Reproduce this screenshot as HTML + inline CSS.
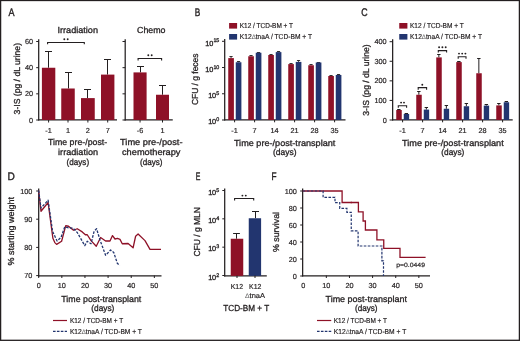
<!DOCTYPE html>
<html><head><meta charset="utf-8"><style>
html,body{margin:0;padding:0;background:#fff;}
svg{display:block;will-change:transform;}
text{font-family:"Liberation Sans",sans-serif;text-rendering:geometricPrecision;fill:#231f20;stroke:#231f20;stroke-width:0.3px;}
</style></head><body>
<svg width="520" height="341" viewBox="0 0 520 341">
<rect x="0" y="0" width="520" height="341" fill="#fff"/>
<text transform="translate(8.48,15.8) scale(0.82,1)" font-size="11" style="stroke-width:0.4px">A</text>
<text transform="translate(194.72,15.8) scale(0.75,1)" font-size="11" style="stroke-width:0.4px">B</text>
<text transform="translate(361.35,15.8) scale(0.8,1)" font-size="11" style="stroke-width:0.4px">C</text>
<text transform="translate(7.42,179.6) scale(0.92,1)" font-size="11" style="stroke-width:0.4px">D</text>
<text transform="translate(195.73,179.6) scale(0.63,1)" font-size="11" style="stroke-width:0.4px">E</text>
<text transform="translate(271.42,179.6) scale(0.75,1)" font-size="11" style="stroke-width:0.4px">F</text>
<line x1="38.7" y1="39.2" x2="38.7" y2="120.5" stroke="#231f20" stroke-width="1.25"/>
<line x1="36.2" y1="120.0" x2="38.7" y2="120.0" stroke="#231f20" stroke-width="1"/>
<text x="33.0" y="122.6" font-size="7.3" text-anchor="end" style="stroke-width:0.18px">0</text>
<line x1="36.2" y1="93.83" x2="38.7" y2="93.83" stroke="#231f20" stroke-width="1"/>
<text x="33.0" y="96.43" font-size="7.3" text-anchor="end" style="stroke-width:0.18px">20</text>
<line x1="36.2" y1="67.67" x2="38.7" y2="67.67" stroke="#231f20" stroke-width="1"/>
<text x="33.0" y="70.27" font-size="7.3" text-anchor="end" style="stroke-width:0.18px">40</text>
<line x1="36.2" y1="41.5" x2="38.7" y2="41.5" stroke="#231f20" stroke-width="1"/>
<text x="33.0" y="44.1" font-size="7.3" text-anchor="end" style="stroke-width:0.18px">60</text>
<line x1="38.2" y1="119.95" x2="117" y2="119.95" stroke="#231f20" stroke-width="1.25"/>
<line x1="48.5" y1="51.5" x2="48.5" y2="67.75" stroke="#231f20" stroke-width="1"/>
<line x1="45.0" y1="51.5" x2="52.0" y2="51.5" stroke="#231f20" stroke-width="1"/>
<rect x="41.9" y="67.75" width="13.4" height="52.25" fill="#8e1127"/>
<line x1="48.6" y1="120" x2="48.6" y2="122.5" stroke="#231f20" stroke-width="1"/>
<text x="48.6" y="132.9" font-size="7.3" text-anchor="middle" style="stroke-width:0.18px">-1</text>
<line x1="68.5" y1="72.5" x2="68.5" y2="88.5" stroke="#231f20" stroke-width="1"/>
<line x1="65.0" y1="72.5" x2="72.0" y2="72.5" stroke="#231f20" stroke-width="1"/>
<rect x="61.25" y="88.5" width="13.5" height="31.5" fill="#8e1127"/>
<line x1="68.0" y1="120" x2="68.0" y2="122.5" stroke="#231f20" stroke-width="1"/>
<text x="68.0" y="132.9" font-size="7.3" text-anchor="middle" style="stroke-width:0.18px">1</text>
<line x1="87.5" y1="89.5" x2="87.5" y2="98.1" stroke="#231f20" stroke-width="1"/>
<line x1="84.0" y1="89.5" x2="91.0" y2="89.5" stroke="#231f20" stroke-width="1"/>
<rect x="81" y="98.1" width="13.75" height="21.9" fill="#8e1127"/>
<line x1="87.88" y1="120" x2="87.88" y2="122.5" stroke="#231f20" stroke-width="1"/>
<text x="87.88" y="132.9" font-size="7.3" text-anchor="middle" style="stroke-width:0.18px">2</text>
<line x1="107.5" y1="59.5" x2="107.5" y2="74.6" stroke="#231f20" stroke-width="1"/>
<line x1="104.0" y1="59.5" x2="111.0" y2="59.5" stroke="#231f20" stroke-width="1"/>
<rect x="101" y="74.6" width="13.4" height="45.4" fill="#8e1127"/>
<line x1="107.7" y1="120" x2="107.7" y2="122.5" stroke="#231f20" stroke-width="1"/>
<text x="107.7" y="132.9" font-size="7.3" text-anchor="middle" style="stroke-width:0.18px">7</text>
<path d="M47.6,44.3V42.5H84.3V44.3" fill="none" stroke="#231f20" stroke-width="1.1"/>
<circle cx="64.3" cy="39.3" r="0.95" fill="#231f20"/>
<circle cx="67.7" cy="39.3" r="0.95" fill="#231f20"/>
<text x="57.5" y="33" font-size="8.7" text-anchor="start" textLength="40.5" lengthAdjust="spacingAndGlyphs">Irradiation</text>
<text x="48" y="145.4" font-size="8.7" text-anchor="start" textLength="59.2" lengthAdjust="spacingAndGlyphs">Time pre-/post-</text>
<text x="58.1" y="155.3" font-size="8.7" text-anchor="start" textLength="40" lengthAdjust="spacingAndGlyphs">irradiation</text>
<text x="66.6" y="165" font-size="8.7" text-anchor="start" textLength="22.5" lengthAdjust="spacingAndGlyphs">(days)</text>
<text transform="translate(19.8,78.7) rotate(-90)" x="0" y="0" font-size="8.7" text-anchor="middle" textLength="71.4" lengthAdjust="spacingAndGlyphs">3-IS (pg / dL urine)</text>
<line x1="125.2" y1="39.2" x2="125.2" y2="120.5" stroke="#231f20" stroke-width="1.25"/>
<line x1="122.5" y1="120.0" x2="125.2" y2="120.0" stroke="#231f20" stroke-width="1"/>
<line x1="122.5" y1="93.83" x2="125.2" y2="93.83" stroke="#231f20" stroke-width="1"/>
<line x1="122.5" y1="67.67" x2="125.2" y2="67.67" stroke="#231f20" stroke-width="1"/>
<line x1="122.5" y1="41.5" x2="125.2" y2="41.5" stroke="#231f20" stroke-width="1"/>
<line x1="124.7" y1="119.95" x2="172.75" y2="119.95" stroke="#231f20" stroke-width="1.25"/>
<line x1="140.5" y1="66.5" x2="140.5" y2="72.4" stroke="#231f20" stroke-width="1"/>
<line x1="137.0" y1="66.5" x2="144.0" y2="66.5" stroke="#231f20" stroke-width="1"/>
<rect x="133.5" y="72.4" width="13.1" height="47.6" fill="#8e1127"/>
<line x1="140.05" y1="120" x2="140.05" y2="122.5" stroke="#231f20" stroke-width="1"/>
<text x="140.05" y="132.9" font-size="7.3" text-anchor="middle" style="stroke-width:0.18px">-6</text>
<line x1="162.5" y1="85.5" x2="162.5" y2="94.75" stroke="#231f20" stroke-width="1"/>
<line x1="159.0" y1="85.5" x2="166.0" y2="85.5" stroke="#231f20" stroke-width="1"/>
<rect x="156" y="94.75" width="13" height="25.25" fill="#8e1127"/>
<line x1="162.5" y1="120" x2="162.5" y2="122.5" stroke="#231f20" stroke-width="1"/>
<text x="162.5" y="132.9" font-size="7.3" text-anchor="middle" style="stroke-width:0.18px">1</text>
<path d="M138.1,60.550000000000004V58.45H161.6V60.550000000000004" fill="none" stroke="#231f20" stroke-width="1.1"/>
<circle cx="148.3" cy="55.2" r="0.95" fill="#231f20"/>
<circle cx="151.7" cy="55.2" r="0.95" fill="#231f20"/>
<text x="137" y="33" font-size="8.7" text-anchor="start" textLength="28.5" lengthAdjust="spacingAndGlyphs">Chemo</text>
<text x="120" y="145.4" font-size="8.7" text-anchor="start" textLength="62.5" lengthAdjust="spacingAndGlyphs">Time pre-/post-</text>
<text x="122" y="155.3" font-size="8.7" text-anchor="start" textLength="58.5" lengthAdjust="spacingAndGlyphs">chemotherapy</text>
<text x="140" y="165" font-size="8.7" text-anchor="start" textLength="22.5" lengthAdjust="spacingAndGlyphs">(days)</text>
<line x1="224.7" y1="39" x2="224.7" y2="120.5" stroke="#231f20" stroke-width="1.25"/>
<line x1="222" y1="120.0" x2="224.7" y2="120.0" stroke="#231f20" stroke-width="1"/>
<text x="219.2" y="124.2" font-size="7.3" text-anchor="end" letter-spacing="-0.15">10<tspan dx="0.3" dy="-3.1" font-size="5.4">0</tspan></text>
<line x1="222" y1="93.77" x2="224.7" y2="93.77" stroke="#231f20" stroke-width="1"/>
<text x="219.2" y="97.96666666666667" font-size="7.3" text-anchor="end" letter-spacing="-0.15">10<tspan dx="0.3" dy="-3.1" font-size="5.4">5</tspan></text>
<line x1="222" y1="67.53" x2="224.7" y2="67.53" stroke="#231f20" stroke-width="1"/>
<text x="219.2" y="71.73333333333333" font-size="7.3" text-anchor="end" letter-spacing="-0.15">10<tspan dx="0.3" dy="-3.1" font-size="5.4">10</tspan></text>
<line x1="222" y1="41.3" x2="224.7" y2="41.3" stroke="#231f20" stroke-width="1"/>
<text x="219.2" y="45.5" font-size="7.3" text-anchor="end" letter-spacing="-0.15">10<tspan dx="0.3" dy="-3.1" font-size="5.4">15</tspan></text>
<line x1="224.2" y1="119.95" x2="345.5" y2="119.95" stroke="#231f20" stroke-width="1.25"/>
<line x1="231.05" y1="56.5" x2="231.05" y2="58.1" stroke="#231f20" stroke-width="0.9"/>
<line x1="229.45" y1="56.5" x2="232.65" y2="56.5" stroke="#231f20" stroke-width="0.9"/>
<line x1="238.55" y1="61.5" x2="238.55" y2="62.25" stroke="#231f20" stroke-width="0.9"/>
<line x1="236.95" y1="61.5" x2="240.15" y2="61.5" stroke="#231f20" stroke-width="0.9"/>
<rect x="228.25" y="58.1" width="5.65" height="61.9" fill="#8e1127"/>
<rect x="235.75" y="62.25" width="5.65" height="57.75" fill="#22356f"/>
<line x1="234.6" y1="120" x2="234.6" y2="122.3" stroke="#231f20" stroke-width="1"/>
<text x="234.6" y="132.9" font-size="7.3" text-anchor="middle" style="stroke-width:0.18px">-1</text>
<line x1="251.05" y1="55.5" x2="251.05" y2="56.25" stroke="#231f20" stroke-width="0.9"/>
<line x1="249.45" y1="55.5" x2="252.65" y2="55.5" stroke="#231f20" stroke-width="0.9"/>
<line x1="258.55" y1="52.5" x2="258.55" y2="52.75" stroke="#231f20" stroke-width="0.9"/>
<line x1="256.95" y1="52.5" x2="260.15" y2="52.5" stroke="#231f20" stroke-width="0.9"/>
<rect x="248.25" y="56.25" width="5.65" height="63.75" fill="#8e1127"/>
<rect x="255.75" y="52.75" width="5.65" height="67.25" fill="#22356f"/>
<line x1="254.6" y1="120" x2="254.6" y2="122.3" stroke="#231f20" stroke-width="1"/>
<text x="254.6" y="132.9" font-size="7.3" text-anchor="middle" style="stroke-width:0.18px">7</text>
<line x1="271.05" y1="54.5" x2="271.05" y2="55" stroke="#231f20" stroke-width="0.9"/>
<line x1="269.45" y1="54.5" x2="272.65" y2="54.5" stroke="#231f20" stroke-width="0.9"/>
<line x1="278.55" y1="51.5" x2="278.55" y2="52.1" stroke="#231f20" stroke-width="0.9"/>
<line x1="276.95" y1="51.5" x2="280.15" y2="51.5" stroke="#231f20" stroke-width="0.9"/>
<rect x="268.25" y="55" width="5.65" height="65" fill="#8e1127"/>
<rect x="275.75" y="52.1" width="5.65" height="67.9" fill="#22356f"/>
<line x1="274.6" y1="120" x2="274.6" y2="122.3" stroke="#231f20" stroke-width="1"/>
<text x="274.6" y="132.9" font-size="7.3" text-anchor="middle" style="stroke-width:0.18px">14</text>
<line x1="291.05" y1="63.5" x2="291.05" y2="64.1" stroke="#231f20" stroke-width="0.9"/>
<line x1="289.45" y1="63.5" x2="292.65" y2="63.5" stroke="#231f20" stroke-width="0.9"/>
<line x1="298.55" y1="60.5" x2="298.55" y2="61.9" stroke="#231f20" stroke-width="0.9"/>
<line x1="296.95" y1="60.5" x2="300.15" y2="60.5" stroke="#231f20" stroke-width="0.9"/>
<rect x="288.25" y="64.1" width="5.65" height="55.9" fill="#8e1127"/>
<rect x="295.75" y="61.9" width="5.65" height="58.1" fill="#22356f"/>
<line x1="294.6" y1="120" x2="294.6" y2="122.3" stroke="#231f20" stroke-width="1"/>
<text x="294.6" y="132.9" font-size="7.3" text-anchor="middle" style="stroke-width:0.18px">21</text>
<line x1="311.05" y1="64.5" x2="311.05" y2="65.25" stroke="#231f20" stroke-width="0.9"/>
<line x1="309.45" y1="64.5" x2="312.65" y2="64.5" stroke="#231f20" stroke-width="0.9"/>
<line x1="318.55" y1="62.5" x2="318.55" y2="62.5" stroke="#231f20" stroke-width="0.9"/>
<line x1="316.95" y1="62.5" x2="320.15" y2="62.5" stroke="#231f20" stroke-width="0.9"/>
<rect x="308.25" y="65.25" width="5.65" height="54.75" fill="#8e1127"/>
<rect x="315.75" y="62.5" width="5.65" height="57.5" fill="#22356f"/>
<line x1="314.6" y1="120" x2="314.6" y2="122.3" stroke="#231f20" stroke-width="1"/>
<text x="314.6" y="132.9" font-size="7.3" text-anchor="middle" style="stroke-width:0.18px">28</text>
<line x1="331.05" y1="75.5" x2="331.05" y2="76" stroke="#231f20" stroke-width="0.9"/>
<line x1="329.45" y1="75.5" x2="332.65" y2="75.5" stroke="#231f20" stroke-width="0.9"/>
<line x1="338.55" y1="74.5" x2="338.55" y2="75" stroke="#231f20" stroke-width="0.9"/>
<line x1="336.95" y1="74.5" x2="340.15" y2="74.5" stroke="#231f20" stroke-width="0.9"/>
<rect x="328.25" y="76" width="5.65" height="44" fill="#8e1127"/>
<rect x="335.75" y="75" width="5.65" height="45" fill="#22356f"/>
<line x1="334.6" y1="120" x2="334.6" y2="122.3" stroke="#231f20" stroke-width="1"/>
<text x="334.6" y="132.9" font-size="7.3" text-anchor="middle" style="stroke-width:0.18px">35</text>
<text x="233.9" y="145.5" font-size="8.7" text-anchor="start" textLength="101.5" lengthAdjust="spacingAndGlyphs">Time pre-/post-transplant</text>
<text x="273" y="155.3" font-size="8.7" text-anchor="start" textLength="23.5" lengthAdjust="spacingAndGlyphs">(days)</text>
<text transform="translate(198.1,79.3) rotate(-90)" x="0" y="0" font-size="8.7" text-anchor="middle" textLength="51.6" lengthAdjust="spacingAndGlyphs">CFU / g feces</text>
<rect x="229.1" y="23" width="8.0" height="5.6" fill="#8e1127"/>
<rect x="229.1" y="34" width="8.0" height="5.6" fill="#22356f"/>
<text x="239.75" y="28.3" font-size="7.2" text-anchor="start" textLength="53.3" lengthAdjust="spacingAndGlyphs" style="stroke-width:0.18px">K12 / TCD-BM + T</text>
<text x="239.75" y="39.3" font-size="7.2" text-anchor="start" textLength="72.3" lengthAdjust="spacingAndGlyphs" style="stroke-width:0.18px">K12<tspan style="fill:#606060;stroke:none" font-size="6.6">&#916;</tspan>tnaA / TCD-BM + T</text>
<line x1="392.65" y1="39.3" x2="392.65" y2="120.5" stroke="#231f20" stroke-width="1.25"/>
<line x1="389.6" y1="120.0" x2="392.65" y2="120.0" stroke="#231f20" stroke-width="1"/>
<text x="386.7" y="122.6" font-size="7.3" text-anchor="end" style="stroke-width:0.18px">0</text>
<line x1="389.6" y1="100.42" x2="392.65" y2="100.42" stroke="#231f20" stroke-width="1"/>
<text x="386.7" y="103.02" font-size="7.3" text-anchor="end" style="stroke-width:0.18px">100</text>
<line x1="389.6" y1="80.85" x2="392.65" y2="80.85" stroke="#231f20" stroke-width="1"/>
<text x="386.7" y="83.45" font-size="7.3" text-anchor="end" style="stroke-width:0.18px">200</text>
<line x1="389.6" y1="61.28" x2="392.65" y2="61.28" stroke="#231f20" stroke-width="1"/>
<text x="386.7" y="63.88" font-size="7.3" text-anchor="end" style="stroke-width:0.18px">300</text>
<line x1="389.6" y1="41.7" x2="392.65" y2="41.7" stroke="#231f20" stroke-width="1"/>
<text x="386.7" y="44.3" font-size="7.3" text-anchor="end" style="stroke-width:0.18px">400</text>
<line x1="392.15" y1="119.95" x2="512.7" y2="119.95" stroke="#231f20" stroke-width="1.25"/>
<line x1="398.85" y1="109.5" x2="398.85" y2="110" stroke="#231f20" stroke-width="1.0"/>
<line x1="397.15" y1="109.5" x2="400.55" y2="109.5" stroke="#231f20" stroke-width="1.0"/>
<line x1="406.35" y1="113.5" x2="406.35" y2="114" stroke="#231f20" stroke-width="1.0"/>
<line x1="404.65" y1="113.5" x2="408.05" y2="113.5" stroke="#231f20" stroke-width="1.0"/>
<rect x="396.25" y="110" width="5.5" height="10" fill="#8e1127"/>
<rect x="403.75" y="114" width="5.4" height="6" fill="#22356f"/>
<line x1="402.6" y1="120" x2="402.6" y2="122.3" stroke="#231f20" stroke-width="1"/>
<text x="402.6" y="132.9" font-size="7.3" text-anchor="middle" style="stroke-width:0.18px">-1</text>
<line x1="418.85" y1="91.5" x2="418.85" y2="94.75" stroke="#231f20" stroke-width="1.0"/>
<line x1="417.15" y1="91.5" x2="420.55" y2="91.5" stroke="#231f20" stroke-width="1.0"/>
<line x1="426.35" y1="107.5" x2="426.35" y2="109.6" stroke="#231f20" stroke-width="1.0"/>
<line x1="424.65" y1="107.5" x2="428.05" y2="107.5" stroke="#231f20" stroke-width="1.0"/>
<rect x="416.25" y="94.75" width="5.5" height="25.25" fill="#8e1127"/>
<rect x="423.75" y="109.6" width="5.4" height="10.4" fill="#22356f"/>
<line x1="422.6" y1="120" x2="422.6" y2="122.3" stroke="#231f20" stroke-width="1"/>
<text x="422.6" y="132.9" font-size="7.3" text-anchor="middle" style="stroke-width:0.18px">7</text>
<line x1="438.85" y1="54.5" x2="438.85" y2="57.4" stroke="#231f20" stroke-width="1.0"/>
<line x1="437.15" y1="54.5" x2="440.55" y2="54.5" stroke="#231f20" stroke-width="1.0"/>
<line x1="446.35" y1="105.5" x2="446.35" y2="108.75" stroke="#231f20" stroke-width="1.0"/>
<line x1="444.65" y1="105.5" x2="448.05" y2="105.5" stroke="#231f20" stroke-width="1.0"/>
<rect x="436.25" y="57.4" width="5.5" height="62.6" fill="#8e1127"/>
<rect x="443.75" y="108.75" width="5.4" height="11.25" fill="#22356f"/>
<line x1="442.6" y1="120" x2="442.6" y2="122.3" stroke="#231f20" stroke-width="1"/>
<text x="442.6" y="132.9" font-size="7.3" text-anchor="middle" style="stroke-width:0.18px">14</text>
<line x1="458.85" y1="61.5" x2="458.85" y2="62.1" stroke="#231f20" stroke-width="1.0"/>
<line x1="457.15" y1="61.5" x2="460.55" y2="61.5" stroke="#231f20" stroke-width="1.0"/>
<line x1="466.35" y1="103.5" x2="466.35" y2="106.25" stroke="#231f20" stroke-width="1.0"/>
<line x1="464.65" y1="103.5" x2="468.05" y2="103.5" stroke="#231f20" stroke-width="1.0"/>
<rect x="456.25" y="62.1" width="5.5" height="57.9" fill="#8e1127"/>
<rect x="463.75" y="106.25" width="5.4" height="13.75" fill="#22356f"/>
<line x1="462.6" y1="120" x2="462.6" y2="122.3" stroke="#231f20" stroke-width="1"/>
<text x="462.6" y="132.9" font-size="7.3" text-anchor="middle" style="stroke-width:0.18px">21</text>
<line x1="478.85" y1="58.5" x2="478.85" y2="73.25" stroke="#231f20" stroke-width="1.0"/>
<line x1="477.15" y1="58.5" x2="480.55" y2="58.5" stroke="#231f20" stroke-width="1.0"/>
<line x1="486.35" y1="104.5" x2="486.35" y2="105.6" stroke="#231f20" stroke-width="1.0"/>
<line x1="484.65" y1="104.5" x2="488.05" y2="104.5" stroke="#231f20" stroke-width="1.0"/>
<rect x="476.25" y="73.25" width="5.5" height="46.75" fill="#8e1127"/>
<rect x="483.75" y="105.6" width="5.4" height="14.4" fill="#22356f"/>
<line x1="482.6" y1="120" x2="482.6" y2="122.3" stroke="#231f20" stroke-width="1"/>
<text x="482.6" y="132.9" font-size="7.3" text-anchor="middle" style="stroke-width:0.18px">28</text>
<line x1="498.85" y1="103.5" x2="498.85" y2="105.4" stroke="#231f20" stroke-width="1.0"/>
<line x1="497.15" y1="103.5" x2="500.55" y2="103.5" stroke="#231f20" stroke-width="1.0"/>
<line x1="506.35" y1="101.5" x2="506.35" y2="102.25" stroke="#231f20" stroke-width="1.0"/>
<line x1="504.65" y1="101.5" x2="508.05" y2="101.5" stroke="#231f20" stroke-width="1.0"/>
<rect x="496.25" y="105.4" width="5.5" height="14.6" fill="#8e1127"/>
<rect x="503.75" y="102.25" width="5.4" height="17.75" fill="#22356f"/>
<line x1="502.6" y1="120" x2="502.6" y2="122.3" stroke="#231f20" stroke-width="1"/>
<text x="502.6" y="132.9" font-size="7.3" text-anchor="middle" style="stroke-width:0.18px">35</text>
<path d="M398.3,107.8V105.8H406.6V107.8" fill="none" stroke="#231f20" stroke-width="1.1"/>
<circle cx="401.1" cy="102.6" r="0.95" fill="#231f20"/>
<circle cx="404.0" cy="102.6" r="0.95" fill="#231f20"/>
<path d="M418.2,89.69999999999999V87.6H426.6V89.69999999999999" fill="none" stroke="#231f20" stroke-width="1.1"/>
<circle cx="422.3" cy="84.7" r="0.95" fill="#231f20"/>
<path d="M438.3,52.6V50.6H446.6V52.6" fill="none" stroke="#231f20" stroke-width="1.1"/>
<circle cx="439.1" cy="47.2" r="0.95" fill="#231f20"/>
<circle cx="442.4" cy="47.2" r="0.95" fill="#231f20"/>
<circle cx="445.7" cy="47.2" r="0.95" fill="#231f20"/>
<path d="M458.2,58.7V56.7H466.0V58.7" fill="none" stroke="#231f20" stroke-width="1.1"/>
<circle cx="459.0" cy="53.6" r="0.95" fill="#231f20"/>
<circle cx="462.2" cy="53.6" r="0.95" fill="#231f20"/>
<circle cx="465.4" cy="53.6" r="0.95" fill="#231f20"/>
<text x="402" y="145.5" font-size="8.7" text-anchor="start" textLength="101.7" lengthAdjust="spacingAndGlyphs">Time pre-/post-transplant</text>
<text x="441.3" y="155.3" font-size="8.7" text-anchor="start" textLength="23" lengthAdjust="spacingAndGlyphs">(days)</text>
<text transform="translate(368.6,80) rotate(-90)" x="0" y="0" font-size="8.7" text-anchor="middle" textLength="71.4" lengthAdjust="spacingAndGlyphs">3-IS (pg / dL urine)</text>
<rect x="399.25" y="23" width="8.15" height="5.6" fill="#8e1127"/>
<rect x="399.25" y="34" width="8.15" height="5.6" fill="#22356f"/>
<text x="410" y="28.3" font-size="7.2" text-anchor="start" textLength="53.7" lengthAdjust="spacingAndGlyphs" style="stroke-width:0.18px">K12 / TCD-BM + T</text>
<text x="410" y="39.3" font-size="7.2" text-anchor="start" textLength="72" lengthAdjust="spacingAndGlyphs" style="stroke-width:0.18px">K12<tspan style="fill:#606060;stroke:none" font-size="6.6">&#916;</tspan>tnaA / TCD-BM + T</text>
<line x1="38.7" y1="188.5" x2="38.7" y2="276.5" stroke="#231f20" stroke-width="1.25"/>
<line x1="36.2" y1="275.6" x2="38.7" y2="275.6" stroke="#231f20" stroke-width="1"/>
<text x="32.4" y="278.2" font-size="7.3" text-anchor="end" style="stroke-width:0.18px">70</text>
<line x1="36.2" y1="247.4" x2="38.7" y2="247.4" stroke="#231f20" stroke-width="1"/>
<text x="32.4" y="250.0" font-size="7.3" text-anchor="end" style="stroke-width:0.18px">80</text>
<line x1="36.2" y1="219.2" x2="38.7" y2="219.2" stroke="#231f20" stroke-width="1"/>
<text x="32.4" y="221.8" font-size="7.3" text-anchor="end" style="stroke-width:0.18px">90</text>
<line x1="36.2" y1="191.0" x2="38.7" y2="191.0" stroke="#231f20" stroke-width="1"/>
<text x="32.4" y="193.6" font-size="7.3" text-anchor="end" style="stroke-width:0.18px">100</text>
<line x1="38.2" y1="275.9" x2="161.5" y2="275.9" stroke="#231f20" stroke-width="1.25"/>
<line x1="38.7" y1="275.5" x2="38.7" y2="278" stroke="#231f20" stroke-width="1"/>
<text x="38.7" y="288.3" font-size="7.3" text-anchor="middle" style="stroke-width:0.18px">0</text>
<line x1="61.83" y1="275.5" x2="61.83" y2="278" stroke="#231f20" stroke-width="1"/>
<text x="61.83" y="288.3" font-size="7.3" text-anchor="middle" style="stroke-width:0.18px">10</text>
<line x1="84.96" y1="275.5" x2="84.96" y2="278" stroke="#231f20" stroke-width="1"/>
<text x="84.96" y="288.3" font-size="7.3" text-anchor="middle" style="stroke-width:0.18px">20</text>
<line x1="108.09" y1="275.5" x2="108.09" y2="278" stroke="#231f20" stroke-width="1"/>
<text x="108.09" y="288.3" font-size="7.3" text-anchor="middle" style="stroke-width:0.18px">30</text>
<line x1="131.22" y1="275.5" x2="131.22" y2="278" stroke="#231f20" stroke-width="1"/>
<text x="131.22" y="288.3" font-size="7.3" text-anchor="middle" style="stroke-width:0.18px">40</text>
<line x1="154.35" y1="275.5" x2="154.35" y2="278" stroke="#231f20" stroke-width="1"/>
<text x="154.35" y="288.3" font-size="7.3" text-anchor="middle" style="stroke-width:0.18px">50</text>
<path d="M38.6,190.5 L41,211.25 L48.1,202.5 L52.9,238.3 L54.8,242.6 L56.6,244.4 L61.6,241.25 L65.75,225.6 L68.5,226.25 L73.5,230.25 L77.25,228.75 L82.25,231.9 L85.4,234.75 L87.25,234.75 L91,240.6 L96.25,246.25 L100.6,237.5 L105.6,241 L110,241 L112.5,235.6 L115,239 L117.5,238.4 L120,239.4 L122.25,243.75 L128.1,243.5 L133.1,247.75 L135.6,236.25 L138.1,234 L145,240.6 L150,249.35 L161,249.35" fill="none" stroke="#8e1127" stroke-width="1.3" stroke-linejoin="round"/>
<path d="M38.6,190.5 L41,208 L48.1,200.25 L52.6,231.5 L57.1,241.0 L61,237.5 L64.75,226.9 L68.5,227.75 L72.9,228.1 L77.25,232.5 L84.75,245.6 L87.25,241.25 L91,243.75 L94.1,231.25 L96.6,228.75 L100,240 L105.6,255.25 L110.6,250 L113.75,252.5 L117.3,263.2 L119.7,265.5" fill="none" stroke="#22356f" stroke-width="1.3" stroke-dasharray="2.6 1.4" stroke-linejoin="round"/>
<text x="61.3" y="301.9" font-size="8.7" text-anchor="start" textLength="80" lengthAdjust="spacingAndGlyphs">Time post-transplant</text>
<text x="91.3" y="311.3" font-size="8.7" text-anchor="start" textLength="23" lengthAdjust="spacingAndGlyphs">(days)</text>
<text transform="translate(13.9,231.2) rotate(-90)" x="0" y="0" font-size="8.7" text-anchor="middle" textLength="68.5" lengthAdjust="spacingAndGlyphs">% starting weight</text>
<line x1="53" y1="320.5" x2="67" y2="320.5" stroke="#8e1127" stroke-width="1.2"/>
<line x1="53" y1="331.4" x2="67" y2="331.4" stroke="#22356f" stroke-width="1.2" stroke-dasharray="2.6 1.3"/>
<text x="69.9" y="322.6" font-size="7.2" text-anchor="start" textLength="53.3" lengthAdjust="spacingAndGlyphs" style="stroke-width:0.18px">K12 / TCD-BM + T</text>
<text x="69.9" y="333.6" font-size="7.2" text-anchor="start" textLength="72" lengthAdjust="spacingAndGlyphs" style="stroke-width:0.18px">K12<tspan style="fill:#606060;stroke:none" font-size="6.6">&#916;</tspan>tnaA / TCD-BM + T</text>
<line x1="224.7" y1="188.5" x2="224.7" y2="276.5" stroke="#231f20" stroke-width="1.25"/>
<line x1="222.3" y1="275.5" x2="224.7" y2="275.5" stroke="#231f20" stroke-width="1"/>
<text x="219.2" y="279.7" font-size="7.3" text-anchor="end" letter-spacing="-0.15">10<tspan dx="0.3" dy="-3.1" font-size="5.4">2</tspan></text>
<line x1="222.3" y1="247.17" x2="224.7" y2="247.17" stroke="#231f20" stroke-width="1"/>
<text x="219.2" y="251.37" font-size="7.3" text-anchor="end" letter-spacing="-0.15">10<tspan dx="0.3" dy="-3.1" font-size="5.4">3</tspan></text>
<line x1="222.3" y1="218.84" x2="224.7" y2="218.84" stroke="#231f20" stroke-width="1"/>
<text x="219.2" y="223.04" font-size="7.3" text-anchor="end" letter-spacing="-0.15">10<tspan dx="0.3" dy="-3.1" font-size="5.4">4</tspan></text>
<line x1="222.3" y1="190.51" x2="224.7" y2="190.51" stroke="#231f20" stroke-width="1"/>
<text x="219.2" y="194.70999999999998" font-size="7.3" text-anchor="end" letter-spacing="-0.15">10<tspan dx="0.3" dy="-3.1" font-size="5.4">5</tspan></text>
<line x1="224.2" y1="275.9" x2="266.8" y2="275.9" stroke="#231f20" stroke-width="1.25"/>
<line x1="236.5" y1="233.5" x2="236.5" y2="238.75" stroke="#231f20" stroke-width="1"/>
<line x1="233.1" y1="233.5" x2="239.9" y2="233.5" stroke="#231f20" stroke-width="1"/>
<rect x="230.75" y="238.75" width="12.5" height="37.15" fill="#8e1127"/>
<line x1="255.5" y1="211.5" x2="255.5" y2="218.25" stroke="#231f20" stroke-width="1"/>
<line x1="252.0" y1="211.5" x2="259.0" y2="211.5" stroke="#231f20" stroke-width="1"/>
<rect x="248.75" y="218.25" width="12.35" height="57.65" fill="#22356f"/>
<line x1="237" y1="275.5" x2="237" y2="278" stroke="#231f20" stroke-width="1"/>
<line x1="255" y1="275.5" x2="255" y2="278" stroke="#231f20" stroke-width="1"/>
<path d="M234.6,200.55V198.55H253.7V200.55" fill="none" stroke="#231f20" stroke-width="1.1"/>
<circle cx="242.42" cy="195.6" r="0.95" fill="#231f20"/>
<circle cx="245.77" cy="195.6" r="0.95" fill="#231f20"/>
<text x="236.9" y="288.9" font-size="7.3" text-anchor="middle" textLength="12.3" lengthAdjust="spacingAndGlyphs" style="stroke-width:0.18px">K12</text>
<text x="255.2" y="288.9" font-size="7.3" text-anchor="middle" textLength="12.3" lengthAdjust="spacingAndGlyphs" style="stroke-width:0.18px">K12</text>
<text x="255" y="298.2" font-size="7.2" text-anchor="middle" textLength="20" lengthAdjust="spacingAndGlyphs" style="stroke-width:0.18px"><tspan style="fill:#606060;stroke:none" font-size="6.6">&#916;</tspan>tnaA</text>
<text x="223.25" y="311.3" font-size="8.7" text-anchor="start" textLength="46" lengthAdjust="spacingAndGlyphs">TCD-BM + T</text>
<text transform="translate(199.7,231.8) rotate(-90)" x="0" y="0" font-size="8.7" text-anchor="middle" textLength="49.5" lengthAdjust="spacingAndGlyphs">CFU / g MLN</text>
<line x1="302.65" y1="188.5" x2="302.65" y2="276.5" stroke="#231f20" stroke-width="1.25"/>
<line x1="300.2" y1="276.0" x2="302.65" y2="276.0" stroke="#231f20" stroke-width="1"/>
<text x="296.9" y="278.6" font-size="7.3" text-anchor="end" style="stroke-width:0.18px">0</text>
<line x1="300.2" y1="259.0" x2="302.65" y2="259.0" stroke="#231f20" stroke-width="1"/>
<text x="296.9" y="261.6" font-size="7.3" text-anchor="end" style="stroke-width:0.18px">20</text>
<line x1="300.2" y1="242.0" x2="302.65" y2="242.0" stroke="#231f20" stroke-width="1"/>
<text x="296.9" y="244.6" font-size="7.3" text-anchor="end" style="stroke-width:0.18px">40</text>
<line x1="300.2" y1="225.0" x2="302.65" y2="225.0" stroke="#231f20" stroke-width="1"/>
<text x="296.9" y="227.6" font-size="7.3" text-anchor="end" style="stroke-width:0.18px">60</text>
<line x1="300.2" y1="208.0" x2="302.65" y2="208.0" stroke="#231f20" stroke-width="1"/>
<text x="296.9" y="210.6" font-size="7.3" text-anchor="end" style="stroke-width:0.18px">80</text>
<line x1="300.2" y1="191.0" x2="302.65" y2="191.0" stroke="#231f20" stroke-width="1"/>
<text x="296.9" y="193.6" font-size="7.3" text-anchor="end" style="stroke-width:0.18px">100</text>
<line x1="302.15" y1="275.9" x2="430" y2="275.9" stroke="#231f20" stroke-width="1.25"/>
<text x="303.2" y="288.3" font-size="7.3" text-anchor="middle" style="stroke-width:0.18px">0</text>
<line x1="326.33" y1="275.5" x2="326.33" y2="278" stroke="#231f20" stroke-width="1"/>
<text x="326.33" y="288.3" font-size="7.3" text-anchor="middle" style="stroke-width:0.18px">10</text>
<line x1="349.46" y1="275.5" x2="349.46" y2="278" stroke="#231f20" stroke-width="1"/>
<text x="349.46" y="288.3" font-size="7.3" text-anchor="middle" style="stroke-width:0.18px">20</text>
<line x1="372.59" y1="275.5" x2="372.59" y2="278" stroke="#231f20" stroke-width="1"/>
<text x="372.59" y="288.3" font-size="7.3" text-anchor="middle" style="stroke-width:0.18px">30</text>
<line x1="395.72" y1="275.5" x2="395.72" y2="278" stroke="#231f20" stroke-width="1"/>
<text x="395.72" y="288.3" font-size="7.3" text-anchor="middle" style="stroke-width:0.18px">40</text>
<line x1="418.85" y1="275.5" x2="418.85" y2="278" stroke="#231f20" stroke-width="1"/>
<text x="418.85" y="288.3" font-size="7.3" text-anchor="middle" style="stroke-width:0.18px">50</text>
<g transform="translate(0,0.4)">
<path d="M302.75,190.6H342.1V202.1H358.4V211.5H363.1V220.6H365.4V229.6H376.9V239.4H383.75V248H400V256.9H425.6" fill="none" stroke="#8e1127" stroke-width="1.3"/>
<line x1="351.25" y1="201.2" x2="351.25" y2="203.0" stroke="#8e1127" stroke-width="0.8"/>
<path d="M302.75,190.6H323.1V196.9H335V202.25H339.75V207.9H346.9V211.9H351.25V230.5H358.1V245.6H381.9V260.4H383.5V275.5" fill="none" stroke="#22356f" stroke-width="1.2" stroke-dasharray="2.6 1.4"/>
</g>
<text x="396.25" y="267.3" font-size="6.2" text-anchor="start" textLength="28.7" lengthAdjust="spacingAndGlyphs" style="stroke-width:0.18px">p=0.0449</text>
<text x="325.5" y="301.9" font-size="8.7" text-anchor="start" textLength="81.5" lengthAdjust="spacingAndGlyphs">Time post-transplant</text>
<text x="355" y="311.3" font-size="8.7" text-anchor="start" textLength="22.5" lengthAdjust="spacingAndGlyphs">(days)</text>
<text transform="translate(279.3,232) rotate(-90)" x="0" y="0" font-size="8.7" text-anchor="middle" textLength="40" lengthAdjust="spacingAndGlyphs">% survival</text>
<line x1="317" y1="320.5" x2="331.25" y2="320.5" stroke="#8e1127" stroke-width="1.2"/>
<line x1="317" y1="331.4" x2="331.25" y2="331.4" stroke="#22356f" stroke-width="1.2" stroke-dasharray="2.6 1.3"/>
<text x="333.75" y="322.6" font-size="7.2" text-anchor="start" textLength="53.3" lengthAdjust="spacingAndGlyphs" style="stroke-width:0.18px">K12 / TCD-BM + T</text>
<text x="333.75" y="333.6" font-size="7.2" text-anchor="start" textLength="72.5" lengthAdjust="spacingAndGlyphs" style="stroke-width:0.18px">K12<tspan style="fill:#606060;stroke:none" font-size="6.6">&#916;</tspan>tnaA / TCD-BM + T</text>
<rect x="0.6" y="0.5" width="518.8" height="339.8" fill="none" stroke="#231f20" stroke-width="1.3"/>
</svg>
</body></html>
